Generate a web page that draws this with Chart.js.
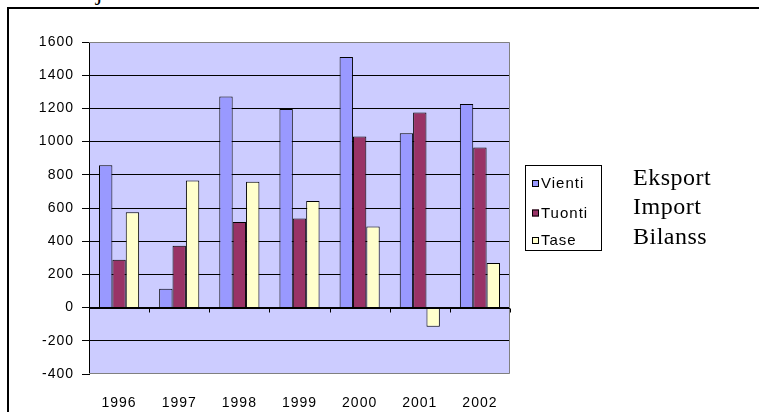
<!DOCTYPE html>
<html>
<head>
<meta charset="utf-8">
<script src="https://cdn.jsdelivr.net/npm/chart.js@4.4.1/dist/chart.umd.min.js"></script>
<style>
  html, body { margin: 0; padding: 0; background: #fff; overflow: hidden; }
  #wrap { position: relative; width: 759px; height: 412px; }
  #frame { position: absolute; left: 7px; top: 7px; width: 760px; height: 420px;
           border-top: 2px solid #000; border-left: 2px solid #000; }
  #title { position: absolute; left: 20px; top: -21px; font: 24px "Liberation Serif", "Times New Roman", serif;
           letter-spacing: 0.5px; white-space: nowrap; color: #000; }
  .note { position: absolute; left: 633px; font: 24px "Liberation Serif", "Times New Roman", serif;
          letter-spacing: 0.5px; color: #000; }
  canvas { position: absolute; left: 0; top: 0; }
</style>
</head>
<body>
<div id="wrap">
  <div id="title">Soome ja Eesti vaheline kaubavahetus</div>
  <div id="frame"></div>
  <canvas id="tradeChart" width="759" height="412"></canvas>
  <div class="note" style="top:164px">Eksport</div>
  <div class="note" style="top:193px">Import</div>
  <div class="note" style="top:223px">Bilanss</div>
</div>
<script>
// chart data
var years = ['1996', '1997', '1998', '1999', '2000', '2001', '2002'];
var vienti = [858, 114, 1272, 1196, 1510, 1050, 1226];
var tuonti = [288, 372, 516, 536, 1030, 1176, 964];
var tase   = [574, 766, 758, 642, 488, -116, 268];
var yTicks = [-400, -200, 0, 200, 400, 600, 800, 1000, 1200, 1400, 1600];

var fontSans = '"Liberation Sans", Arial, sans-serif';

// plot background + border, tick marks on the zero line
var plotArea = {
	id: 'plotArea',
	beforeDraw: function(chart){
		var a = chart.chartArea, ctx = chart.ctx;
		ctx.letterSpacing = '1px';  // old excel text looks spaced out
		ctx.save();
		ctx.fillStyle = '#CCCCFF';
		ctx.fillRect(a.left, a.top, a.right - a.left, a.bottom - a.top);
		ctx.restore();
	},
	afterDatasetsDraw: function(chart){
		var a = chart.chartArea, ctx = chart.ctx;
		var xs = chart.scales.x, ys = chart.scales.y;
		var y0 = Math.round(ys.getPixelForValue(0)) + 0.5;
		ctx.save();
		ctx.strokeStyle = '#808080';
		ctx.lineWidth = 1;
		ctx.beginPath();
		ctx.moveTo(a.left, a.top + 0.5);
		ctx.lineTo(a.right - 0.5, a.top + 0.5);
		ctx.lineTo(a.right - 0.5, a.bottom - 0.5);
		ctx.lineTo(a.left, a.bottom - 0.5);
		ctx.stroke();
		ctx.strokeStyle = '#000';
		ctx.beginPath();
		ctx.moveTo(a.left, y0);
		ctx.lineTo(a.right, y0);
		var w = xs.getPixelForTick(1) - xs.getPixelForTick(0);
		for(var i = 0; i <= years.length; i++){
			var x = Math.round(xs.getPixelForTick(0) - w / 2 + i * w) + 0.5;
			ctx.moveTo(x, y0);
			ctx.lineTo(x, y0 + 4);
		}
		ctx.stroke();
		ctx.restore();
	}
};

// legend box
var boxLegend = {
	id: 'boxLegend',
	afterDraw: function(chart){
		var ctx = chart.ctx;
		ctx.save();
		ctx.letterSpacing = '1px';
		ctx.strokeStyle = '#000';
		ctx.lineWidth = 1;
		ctx.strokeRect(525.5, 165.5, 76, 85);
		ctx.font = '15px ' + fontSans;
		ctx.textBaseline = 'middle';
		ctx.fillStyle = '#000';
		var rows = [183, 212.5, 240];
		chart.data.datasets.forEach(function(ds, i){
			ctx.fillStyle = ds.backgroundColor;
			ctx.fillRect(532, rows[i] - 3, 7, 7);
			ctx.strokeRect(532.5, rows[i] - 2.5, 6, 6);
			ctx.fillStyle = '#000';
			ctx.fillText(ds.label, 541, rows[i] + 1);
		});
		ctx.restore();
	}
};

var ctx = document.getElementById('tradeChart').getContext('2d');

new Chart(ctx, {
	type: 'bar',
	data: {
		labels: years,
		datasets: [
			{ label: 'Vienti', data: vienti, backgroundColor: '#9999FF', borderColor: '#000', borderWidth: 1 },
			{ label: 'Tuonti', data: tuonti, backgroundColor: '#993366', borderColor: '#000', borderWidth: 1 },
			{ label: 'Tase',   data: tase,   backgroundColor: '#FFFFCC', borderColor: '#000', borderWidth: 1 }
		]
	},
	options: {
		responsive: false,
		animation: false,
		devicePixelRatio: 1,
		categoryPercentage: 0.667,
		barPercentage: 1.0,
		layout: { padding: { left: 0, top: 42, right: 249, bottom: 0 } },
		plugins: {
			legend: { display: false },
			tooltip: { enabled: false }
		},
		scales: {
			x: {
				grid: { display: false },
				border: { display: false },
				ticks: { color: '#000', font: { family: fontSans, size: 14 }, padding: 13, maxRotation: 0 },
				afterFit: function(scale){ scale.height = 38; }
			},
			y: {
				min: -400,
				max: 1600,
				afterBuildTicks: function(scale){
					scale.ticks = yTicks.map(function(v){ return { value: v }; });
				},
				grid: {
					color: function(c){ return (c.tick && (c.tick.value === 1600 || c.tick.value === -400)) ? 'rgba(0,0,0,0)' : '#000'; },
					tickColor: '#000',
					tickLength: 7,
					lineWidth: 1
				},
				border: { display: true, color: '#000', width: 1 },
				ticks: {
					color: '#000',
					font: { family: fontSans, size: 14 },
					padding: 8,
					callback: function(v){ return String(v); }
				},
				afterFit: function(scale){ scale.width = 89; }
			}
		}
	},
	plugins: [plotArea, boxLegend]
});
</script>
</body>
</html>
